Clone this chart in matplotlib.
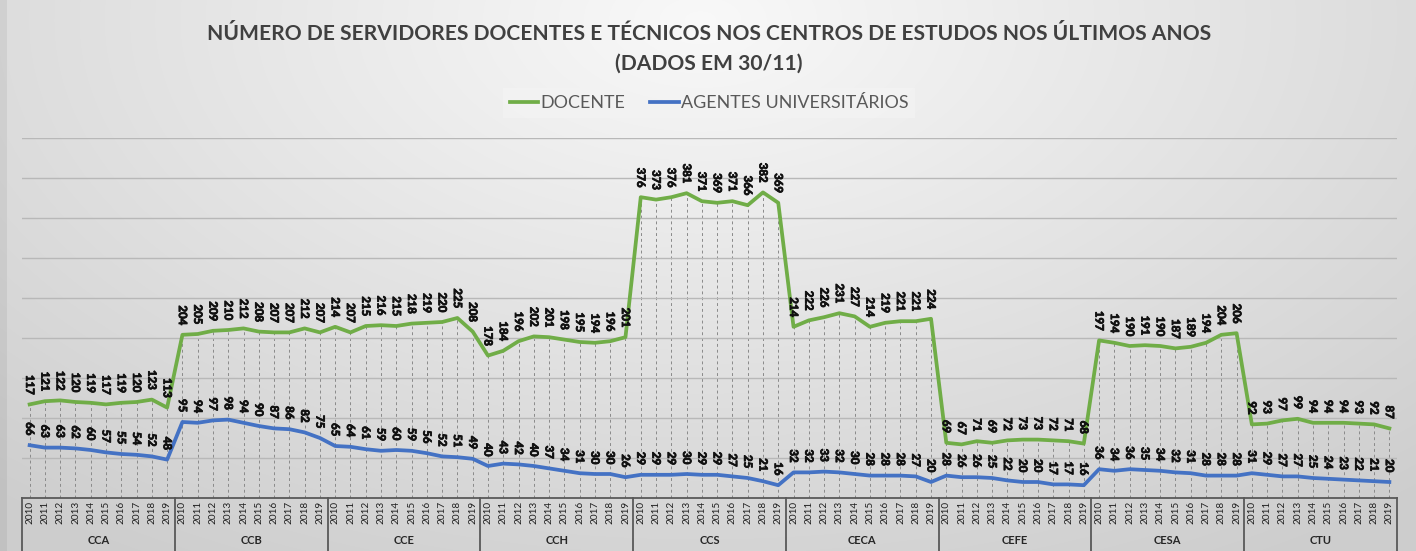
import numpy as np
import matplotlib
matplotlib.use("Agg")
import matplotlib.pyplot as plt
import matplotlib.patheffects as pe
from matplotlib.lines import Line2D

plt.rcParams['font.family'] = ['Lato', 'DejaVu Sans']

# ---------------- data ----------------
centers = ["CCA", "CCB", "CCE", "CCH", "CCS", "CECA", "CEFE", "CESA", "CTU"]
years = ["2010", "2011", "2012", "2013", "2014", "2015", "2016", "2017", "2018", "2019"]

docente_cca = [117, 121, 122, 120, 119, 117, 119, 120, 123, 113]
docente_ccb = [204, 205, 209, 210, 212, 208, 207, 207, 212, 207]
docente_cce = [214, 207, 215, 216, 215, 218, 219, 220, 225, 208]
docente_cch = [178, 184, 196, 202, 201, 198, 195, 194, 196, 201]
docente_ccs = [376, 373, 376, 381, 371, 369, 371, 366, 382, 369]
docente_ceca = [214, 222, 226, 231, 227, 214, 219, 221, 221, 224]
docente_cefe = [69, 67, 71, 69, 72, 73, 73, 72, 71, 68]
docente_cesa = [197, 194, 190, 191, 190, 187, 189, 194, 204, 206]
docente_ctu = [92, 93, 97, 99, 94, 94, 94, 93, 92, 87]

agentes_cca = [66, 63, 63, 62, 60, 57, 55, 54, 52, 48]
agentes_ccb = [95, 94, 97, 98, 94, 90, 87, 86, 82, 75]
agentes_cce = [65, 64, 61, 59, 60, 59, 56, 52, 51, 49]
agentes_cch = [40, 43, 42, 40, 37, 34, 31, 30, 30, 26]
agentes_ccs = [29, 29, 29, 30, 29, 29, 27, 25, 21, 16]
agentes_ceca = [32, 32, 33, 32, 30, 28, 28, 28, 27, 20]
agentes_cefe = [28, 26, 26, 25, 22, 20, 20, 17, 17, 16]
agentes_cesa = [36, 34, 36, 35, 34, 32, 31, 28, 28, 28]
agentes_ctu = [31, 29, 27, 27, 25, 24, 23, 22, 21, 20]

docente = (docente_cca + docente_ccb + docente_cce + docente_cch + docente_ccs +
           docente_ceca + docente_cefe + docente_cesa + docente_ctu)
agentes = (agentes_cca + agentes_ccb + agentes_cce + agentes_cch + agentes_ccs +
           agentes_ceca + agentes_cefe + agentes_cesa + agentes_ctu)

title_line1 = "NÚMERO DE SERVIDORES DOCENTES E TÉCNICOS NOS CENTROS DE ESTUDOS NOS ÚLTIMOS ANOS"
title_line2 = "(DADOS EM 30/11)"
label_docente = "DOCENTE"
label_agentes = "AGENTES UNIVERSITÁRIOS"

# ---------------- styling ----------------
GREEN = "#70ad47"
BLUE = "#4472c4"
W, H = 1416, 551
fig = plt.figure(figsize=(W / 100, H / 100), dpi=100)

# background gradient
bg = fig.add_axes([0, 0, 1, 1], zorder=-10)
yy, xx = np.mgrid[0:H, 0:W]
r = np.sqrt(((xx - 700) / 900.0) ** 2 + ((yy - 20) / 520.0) ** 2)
val = 0.975 - 0.14 * np.clip(r, 0, 1.2)
val = np.where(xx < 7, val - 0.05, val)
img = np.dstack([val, val, val])
bg.imshow(np.clip(img, 0, 1), aspect='auto', extent=[0, 1, 0, 1])
bg.axis('off')

left, right = 22 / W, 1397 / W
bottom, top = 1 - 498 / H, 1 - 138 / H
ax = fig.add_axes([left, bottom, right - left, top - bottom])
ax.patch.set_alpha(0)

x = np.arange(len(docente))
ax.set_xlim(-0.5, len(docente) - 0.5)
ax.set_ylim(0, 450)
ax.set_yticks(np.arange(50, 451, 50))
ax.yaxis.grid(True, color="#b8b8b8", lw=1.0)
ax.tick_params(axis='y', length=0, labelleft=False)
for s in ['top', 'right', 'left']:
    ax.spines[s].set_visible(False)
ax.spines['bottom'].set_color('#595959')
ax.spines['bottom'].set_linewidth(1.3)

# drop lines
ax.vlines(x, 0, np.maximum(docente, agentes), colors="#8a8a8a", linestyles=(0, (3, 3)), lw=0.7, zorder=1)

ax.plot(x, docente, color=GREEN, lw=2.7, zorder=3, solid_joinstyle='round')
ax.plot(x, agentes, color=BLUE, lw=2.7, zorder=3, solid_joinstyle='round')

stroke = [pe.withStroke(linewidth=0.6, foreground='#111111')]
for series in (docente, agentes):
    for xi, v in zip(x, series):
        ax.annotate(str(v), (xi, v), xytext=(0, 7), textcoords='offset points', rotation=270,
                    ha='center', va='bottom', fontsize=8.2, fontweight='bold', color='#111111',
                    zorder=4, path_effects=stroke)

# category axis (two levels)
ax.set_xticks(x)
ax.set_xticklabels(years * len(centers), rotation=90, fontsize=7.2, color='#1f1f1f')
ax.tick_params(axis='x', length=0, pad=2)
trans = ax.get_xaxis_transform()
axh = 498 - 138
for i in range(len(centers) + 1):
    xb = i * 10 - 0.5
    ax.plot([xb, xb], [0, -(H - 498 + 2) / axh], transform=trans, color='#595959', lw=1.3, clip_on=False)
for i, c in enumerate(centers):
    ax.text(i * 10 + 4.5, -(541 - 498) / axh, c, transform=trans, ha='center', va='center',
            fontsize=8, fontweight='bold', color='#262626')

# title
t1 = fig.text(709 / W, 1 - 34 / H, title_line1, ha='center', va='center', fontsize=15,
              fontweight='bold', color='#404040')
t2 = fig.text(709 / W, 1 - 64 / H, title_line2, ha='center', va='center', fontsize=15,
              fontweight='bold', color='#404040')
fig.canvas.draw()
rend = fig.canvas.get_renderer()
w1 = t1.get_window_extent(rend).width
fs = 15 * 1002 / w1
t1.set_fontsize(fs)
t2.set_fontsize(fs)

# legend
handles = [Line2D([], [], color=GREEN, lw=2.7), Line2D([], [], color=BLUE, lw=2.7)]
leg = fig.legend(handles, [label_docente, label_agentes], loc='center', ncol=2,
                 bbox_to_anchor=(709 / W, 1 - 103 / H), frameon=True, fontsize=12.9,
                 handlelength=1.6, handletextpad=0.1, columnspacing=1.4,
                 borderpad=0.4, borderaxespad=0, fancybox=False)
leg.get_frame().set_facecolor('#f3f3f3')
leg.get_frame().set_edgecolor('none')
for t in leg.get_texts():
    t.set_color('#595959')

fig.savefig("out.png", dpi=100)
